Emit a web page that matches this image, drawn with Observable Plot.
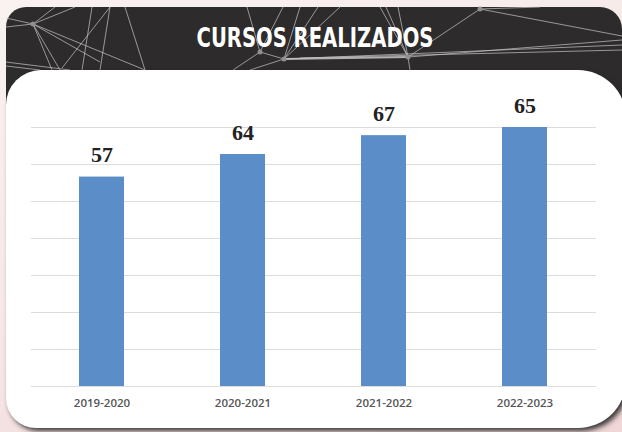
<!DOCTYPE html>
<html>
<head>
<meta charset="utf-8">
<script src="https://cdn.jsdelivr.net/npm/d3@7"></script>
<script src="https://cdn.jsdelivr.net/npm/@observablehq/plot@0.6"></script>
<style>
  html, body { margin: 0; padding: 0; }
  body { width: 622px; height: 432px; overflow: hidden; position: relative;
         background: linear-gradient(160deg, #f9f2f1 0%, #f6e9e8 45%, #f0d6d6 100%); }
  #panel { position: absolute; left: 6px; top: 7px; width: 616px; height: 160px;
           background: #2d2b2c; border-radius: 20px 22px 0 0; overflow: hidden; }
  #deco { position: absolute; left: 0; top: 0; }
  #card { position: absolute; left: 6px; top: 70px; width: 620px; height: 358px;
          background: #ffffff; border-radius: 35px 48px 48px 30px;
          box-shadow: 3px 3px 5px rgba(40,40,40,0.9); }
  #chart { position: absolute; left: 0; top: 0; }
</style>
</head>
<body>
<div id="panel"></div>
<svg id="deco" width="622" height="72" viewBox="0 0 622 72">
  <g stroke="rgba(200,200,200,0.7)" stroke-width="1" fill="none">
    <line x1="6" y1="18" x2="33" y2="24"/>
    <line x1="6" y1="27" x2="33" y2="24"/>
    <line x1="33" y1="24" x2="52" y2="70"/>
    <line x1="33" y1="24" x2="60" y2="70"/>
    <line x1="33" y1="24" x2="100" y2="62"/>
    <line x1="33" y1="24" x2="145" y2="70"/>
    <line x1="33" y1="24" x2="75" y2="7"/>
    <line x1="55" y1="7" x2="33" y2="24"/>
    <line x1="110" y1="7" x2="62" y2="68"/>
    <line x1="92" y1="7" x2="82" y2="70"/>
    <line x1="110" y1="7" x2="100" y2="70"/>
    <line x1="125" y1="7" x2="145" y2="70"/>
    <line x1="6" y1="62" x2="70" y2="70"/>
    <line x1="6" y1="66" x2="40" y2="70"/>
    <line x1="247" y1="7" x2="260" y2="52"/>
    <line x1="283" y1="7" x2="260" y2="52"/>
    <line x1="300" y1="7" x2="284" y2="59"/>
    <line x1="318" y1="7" x2="284" y2="59"/>
    <line x1="340" y1="7" x2="284" y2="59"/>
    <line x1="260" y1="52" x2="233" y2="70"/>
    <line x1="260" y1="52" x2="284" y2="59"/>
    <line x1="284" y1="59" x2="250" y2="70"/>
    <line x1="284" y1="59" x2="408" y2="57" stroke="rgba(210,210,210,0.8)" stroke-width="2"/>
    <line x1="284" y1="59" x2="622" y2="45"/>
    <line x1="300" y1="58" x2="622" y2="50"/>
    <line x1="380" y1="7" x2="408" y2="57"/>
    <line x1="386" y1="7" x2="408" y2="57"/>
    <line x1="398" y1="7" x2="408" y2="57"/>
    <line x1="408" y1="57" x2="480" y2="9"/>
    <line x1="408" y1="57" x2="410" y2="70"/>
    <line x1="480" y1="9" x2="622" y2="36"/>
    <line x1="480" y1="9" x2="540" y2="7"/>
    <line x1="408" y1="57" x2="622" y2="40"/>
  </g>
  <g fill="#909090">
    <circle cx="33" cy="24" r="2.5"/>
    <circle cx="260" cy="52" r="2.5"/>
    <circle cx="284" cy="59" r="2.5"/>
    <circle cx="408" cy="57" r="2.5"/>
    <circle cx="480" cy="9" r="2.5"/>
  </g>
  <text x="315" y="47" text-anchor="middle" textLength="237" lengthAdjust="spacingAndGlyphs"
        font-family="'DejaVu Sans Condensed', 'DejaVu Sans'" font-weight="bold" font-size="27" fill="#ffffff">CURSOS REALIZADOS</text>
</svg>
<div id="card"></div>
<div id="chart"></div>
<script>
const periods = ["2019-2020", "2020-2021", "2021-2022", "2022-2023"];
const barValues = [56.6, 62.7, 67.8, 70];
const labelValues = [57, 64, 67, 65];
const gridTicks = [0, 10, 20, 30, 40, 50, 60, 70];

const data = periods.map((p, i) => ({period: p, value: barValues[i], label: String(labelValues[i])}));

const chart = Plot.plot({
  width: 622,
  height: 432,
  marginLeft: 31,
  marginRight: 26,
  marginTop: 127,
  marginBottom: 46,
  style: {background: "none", color: "#555555", fontFamily: "'Open Sans', sans-serif", fontSize: "11.5px", fontWeight: "600", overflow: "visible"},
  x: {domain: periods, type: "band", paddingInner: 0.68, paddingOuter: 0.34, tickSize: 0, tickPadding: 12, label: null},
  y: {domain: [0, 70], axis: null},
  marks: [
    Plot.ruleY(gridTicks, {stroke: "#dcdcdc", strokeWidth: 1}),
    Plot.barY(data, {x: "period", y: "value", fill: "#5b8ec8"}),
    Plot.text(data, {x: "period", y: "value", text: "label", dy: -22, fontSize: 22, fontWeight: "bold",
                     fontFamily: "'Liberation Serif', serif", fill: "#222222"})
  ]
});
document.getElementById("chart").appendChild(chart);
</script>
</body>
</html>
